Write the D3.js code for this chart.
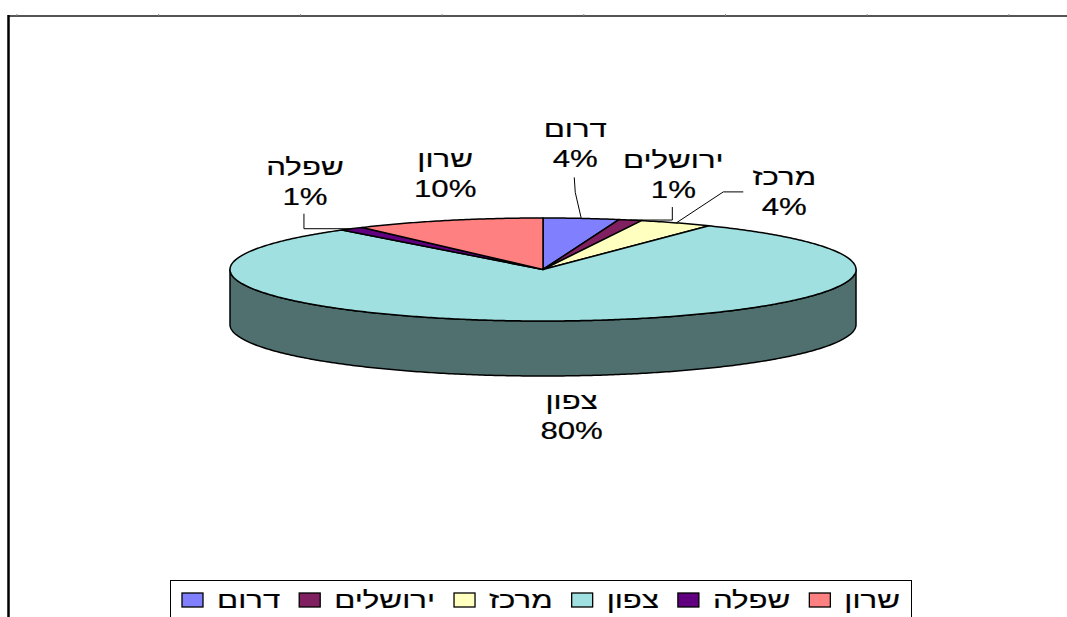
<!DOCTYPE html>
<html>
<head>
<meta charset="utf-8">
<script src="https://cdn.jsdelivr.net/npm/d3@7"></script>
<style>
  html, body { margin: 0; padding: 0; background: #fff; }
  svg { display: block; }
  text { font-family: "Liberation Sans", Arial, sans-serif; fill: #000; stroke: #000; stroke-width: 0.2px; }
</style>
</head>
<body>
<div id="chart"></div>
<script>
// regions and their share (percent)
const regions = ["דרום", "ירושלים", "מרכז", "צפון", "שפלה", "שרון"]
const shares  = [3.9, 1.2, 3.8, 80.0, 1.3, 9.8]
const colors  = ["#8080FF", "#802060", "#FFFFC0", "#A0E0E0", "#600080", "#FF8080"]

// label offsets from the rim point of each slice (x, baseline of first line)
const labelShift = [[-6, -81], [43, -52], [108, -38], [7, 33], [-47, -54], [-3, -53]]
// leader type for each label (null = none)
const leaders = ["straight", "below", "left", null, "below", null]

var W = 1067, H = 617
var cx = 543, cy = 269.5, rx = 313, ry = 51.5, depth = 55
var fontSize = 24, stretch = 1.3, lineGap = 30

var svg = d3.select("#chart").append("svg")
  .attr("width", W)
  .attr("height", H)

// frame: grey top rule with little ticks, black left edge
svg.append("line")
  .attr("x1", 8).attr("x2", W).attr("y1", 16).attr("y2", 16)
  .attr("stroke", "#555").attr("stroke-width", 2)
svg.append("g").selectAll("line")
  .data(d3.range(17, W, 141.7))
  .enter().append("line")
  .attr("x1", d => d).attr("x2", d => d)
  .attr("y1", 14).attr("y2", 16)
  .attr("stroke", "#888").attr("stroke-width", 1)
svg.append("line")
  .attr("x1", 8.5).attr("x2", 8.5).attr("y1", 15).attr("y2", H)
  .attr("stroke", "#000").attr("stroke-width", 2.5)

// ----- 3D pie -----
var pie = d3.pie().sort(null).value(d => d)
var arcs = pie(shares)

function px(a) { return cx + rx * Math.sin(a) }
function py(a) { return cy - ry * Math.cos(a) }
function arcPts(a0, a1, dy) {
  var n = Math.max(2, Math.ceil(Math.abs(a1 - a0) / 0.01))
  return d3.range(n + 1).map(i => {
    var a = a0 + (a1 - a0) * i / n
    return [px(a), py(a) + dy]
  })
}
var line = d3.line()

// side walls (front half only)
var sides = svg.append("g")
arcs.forEach(function (d, i) {
  var a0 = Math.max(d.startAngle, Math.PI / 2)
  var a1 = Math.min(d.endAngle, Math.PI * 3 / 2)
  if (a1 <= a0) return
  var pts = arcPts(a0, a1, 0).concat(arcPts(a1, a0, depth))
  var c = d3.rgb(colors[i])
  sides.append("path")
    .attr("d", line(pts) + "Z")
    .attr("fill", d3.rgb(c.r / 2, c.g / 2, c.b / 2))
    .attr("stroke", "#000")
    .attr("stroke-width", 1.5)
    .attr("stroke-linejoin", "round")
})

// top faces
svg.append("g").selectAll("path")
  .data(arcs)
  .enter().append("path")
  .attr("d", d => line([[cx, cy]].concat(arcPts(d.startAngle, d.endAngle, 0))) + "Z")
  .attr("fill", (d, i) => colors[i])
  .attr("stroke", "#000")
  .attr("stroke-width", 1.5)
  .attr("stroke-linejoin", "round")

// ----- labels -----
var labels = svg.append("g")
arcs.forEach(function (d, i) {
  var mid = (d.startAngle + d.endAngle) / 2
  var ax = px(mid), ay = py(mid)
  if (Math.cos(mid) < 0) ay += depth
  var lx = ax + labelShift[i][0], ly = ay + labelShift[i][1]
  var pct = Math.round(shares[i]) + "%"
  ;[regions[i], pct].forEach(function (t, k) {
    labels.append("g")
      .attr("transform", "translate(" + lx + "," + (ly + k * lineGap) + ") scale(" + stretch + ",1)")
      .append("text")
      .attr("text-anchor", "middle")
      .attr("font-size", fontSize)
      .text(t)
  })
  var pts = null
  var bottom = ly + lineGap + 10
  if (leaders[i] == "straight") {
    pts = [[lx - 1, bottom], [lx, bottom + 15], [ax, ay]]
  } else if (leaders[i] == "below") {
    pts = [[lx - 1, bottom - 1], [lx - 1, ay], [ax, ay]]
  } else if (leaders[i] == "left") {
    pts = [[lx - 41, ly + 7], [lx - 61, ly + 7], [ax, ay]]
  }
  if (pts) {
    labels.append("path")
      .attr("d", line(pts))
      .attr("fill", "none")
      .attr("stroke", "#000")
      .attr("stroke-width", 1)
  }
})

// ----- legend -----
var legend = svg.append("g")
legend.append("rect")
  .attr("x", 170.5).attr("y", 580.5)
  .attr("width", 741).attr("height", 60)
  .attr("fill", "#fff")
  .attr("stroke", "#000")
  .attr("stroke-width", 1)

var x = 182
regions.forEach(function (r, i) {
  legend.append("rect")
    .attr("x", x).attr("y", 593)
    .attr("width", 21).attr("height", 14)
    .attr("fill", colors[i])
    .attr("stroke", "#000")
    .attr("stroke-width", 1.3)
  x += 21 + 14
  var t = legend.append("g")
    .attr("transform", "translate(" + x + ",608) scale(" + stretch + ",1)")
    .append("text")
    .attr("font-size", fontSize)
    .text(r)
  x += t.node().getComputedTextLength() * stretch + 19
})
</script>
</body>
</html>
